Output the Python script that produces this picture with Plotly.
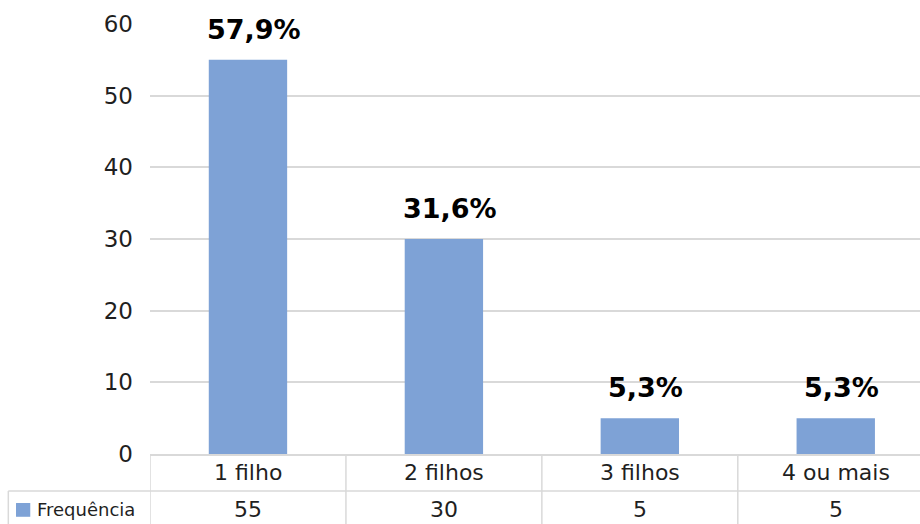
import plotly.graph_objects as go

categories = ["1 filho", "2 filhos", "3 filhos", "4 ou mais"]
frequencia = [55, 30, 5, 5]
series_name = "Frequência"
y_ticks = [0, 10, 20, 30, 40, 50, 60]

total = sum(frequencia)
pct_labels = [f"{v / total * 100:.1f}%".replace(".", ",") for v in frequencia]

BAR = "#7ea2d6"
GRID = "#d9d9d9"
TXT = "#1f1f1f"
FONT = "DejaVu Sans"

n = len(categories)
x_max = n - 0.5 - 0.07  # plot area is cut off at the right edge

fig = go.Figure()
fig.add_trace(go.Bar(
    x=categories, y=frequencia, name=series_name,
    marker=dict(color=BAR, line=dict(width=0)),
    width=0.40, showlegend=False,
))

annotations = []
# percentage labels above bars
for c, v, t in zip(categories, frequencia, pct_labels):
    annotations.append(dict(
        x=c, y=v, xref="x", yref="y", text=f"<b>{t}</b>", showarrow=False,
        yanchor="bottom", yshift=13, xshift=6,
        font=dict(family=FONT, size=27, color="#000000"),
    ))

# table rows
row1_y = -0.043
row2_y = -0.1295
for c, v in zip(categories, frequencia):
    annotations.append(dict(x=c, y=row1_y, xref="x", yref="paper", text=c,
                            showarrow=False, yanchor="middle", xanchor="center",
                            font=dict(family=FONT, size=22, color=TXT)))
    annotations.append(dict(x=c, y=row2_y, xref="x", yref="paper", text=str(v),
                            showarrow=False, yanchor="middle", xanchor="center",
                            font=dict(family=FONT, size=22, color=TXT)))
annotations.append(dict(x=-0.149, y=row2_y, xref="paper", yref="paper", text=series_name,
                        xanchor="left", yanchor="middle", showarrow=False,
                        font=dict(family=FONT, size=18, color=TXT)))

shapes = []
line = dict(color=GRID, width=1.5)
y_top = 0
y_mid = -0.086
y_bot = -0.17
for i in range(n):
    shapes.append(dict(type="line", xref="x", yref="paper", x0=i - 0.5, x1=i - 0.5,
                       y0=y_top, y1=y_bot, line=line))
shapes.append(dict(type="line", xref="paper", yref="paper", x0=-0.184, x1=1,
                   y0=y_mid, y1=y_mid, line=line))
shapes.append(dict(type="line", xref="paper", yref="paper", x0=-0.184, x1=-0.184,
                   y0=y_mid, y1=y_bot, line=line))
# legend key square
shapes.append(dict(type="rect", xref="paper", yref="paper", x0=-0.174, x1=-0.1555,
                   y0=-0.114, y1=-0.146, fillcolor=BAR, line=dict(width=0)))

fig.update_layout(
    width=920, height=524,
    margin=dict(l=150, r=0, t=24, b=70),
    paper_bgcolor="white", plot_bgcolor="white",
    font=dict(family=FONT, color=TXT),
    xaxis=dict(showticklabels=False, showgrid=False, showline=True, linecolor=GRID,
               linewidth=1.5, ticks="", range=[-0.5, x_max], fixedrange=True),
    yaxis=dict(range=[0, 60], tickvals=y_ticks, showgrid=True, gridcolor=GRID, gridwidth=1.5,
               zeroline=False, showline=False, ticklabelstandoff=16,
               tickfont=dict(family=FONT, size=23, color=TXT)),
    annotations=annotations,
    shapes=shapes,
)

fig.write_html("out.html", config={"displayModeBar": False},
               post_script="document.body.style.margin='0';")
